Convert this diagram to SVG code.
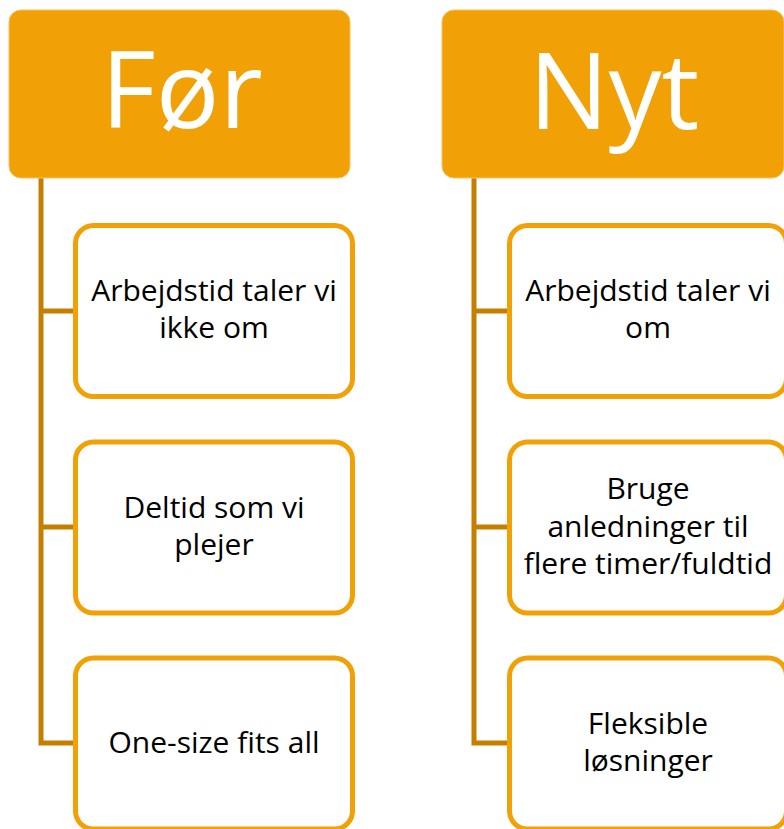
<svg xmlns="http://www.w3.org/2000/svg" width="784" height="829" viewBox="0 0 784 829">
<style>
.hdr{fill:#F1A105;stroke:#F5C25C;stroke-width:1}
.box{fill:#FFFFFF;stroke:#F1A105;stroke-width:5}
.conn{fill:none;stroke:#C57F00;stroke-width:5}
.ht{font-family:"Open Sans","Noto Sans",sans-serif;font-size:106px;fill:#FFFFFF;text-anchor:middle}
.bt{font-family:"Open Sans","Noto Sans",sans-serif;font-size:30px;fill:#000000;text-anchor:middle}
</style>
<rect width="784" height="829" fill="#FFFFFF"/>
<g id="connectors">
<path class="conn" d="M41,178 V743 H75 M41,311 H75 M41,527 H75"/>
<path class="conn" d="M474,178 V743 H509 M474,311 H509 M474,527 H509"/>
</g>
<g id="hdr-for">
<rect class="hdr" x="9" y="10" width="341" height="168" rx="12"/>
<text class="ht" x="182" y="128">Før</text>
</g>
<g id="hdr-nyt">
<rect class="hdr" x="442" y="10" width="342" height="168" rx="12"/>
<text class="ht" x="614" y="129">Nyt</text>
</g>
<g id="for-1">
<rect class="box" x="75.5" y="225.5" width="277" height="171" rx="18"/>
<text class="bt" x="214" y="301">Arbejdstid taler vi</text>
<text class="bt" x="214" y="338">ikke om</text>
</g>
<g id="for-2">
<rect class="box" x="75.5" y="442" width="277" height="171" rx="18"/>
<text class="bt" x="214" y="518">Deltid som vi</text>
<text class="bt" x="214" y="555">plejer</text>
</g>
<g id="for-3">
<rect class="box" x="75.5" y="658" width="277" height="171" rx="18"/>
<text class="bt" x="214" y="753">One-size fits all</text>
</g>
<g id="nyt-1">
<rect class="box" x="509.5" y="225.5" width="277" height="171" rx="18"/>
<text class="bt" x="648" y="301">Arbejdstid taler vi</text>
<text class="bt" x="648" y="338">om</text>
</g>
<g id="nyt-2">
<rect class="box" x="509.5" y="442" width="277" height="171" rx="18"/>
<text class="bt" x="648" y="499">Bruge</text>
<text class="bt" x="648" y="537">anledninger til</text>
<text class="bt" x="648" y="574">flere timer/fuldtid</text>
</g>
<g id="nyt-3">
<rect class="box" x="509.5" y="658" width="277" height="171" rx="18"/>
<text class="bt" x="648" y="734">Fleksible</text>
<text class="bt" x="648" y="771">løsninger</text>
</g>
</svg>
